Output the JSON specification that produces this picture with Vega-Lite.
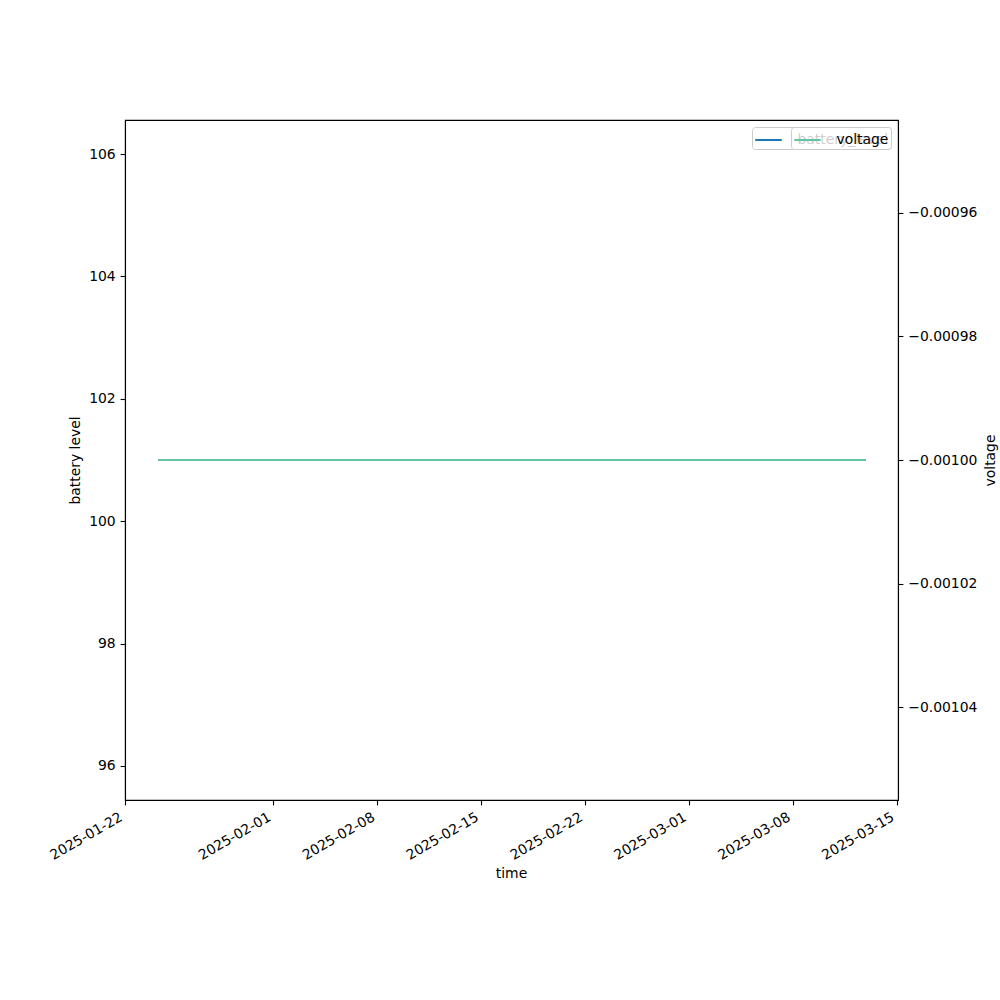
{
  "$schema": "https://vega.github.io/schema/vega-lite/v6.json",
  "autosize": {"type": "none"},
  "width": 773,
  "height": 680,
  "padding": {"left": 125, "top": 120, "right": 102, "bottom": 200},
  "background": "white",
  "config": {
    "view": {"stroke": "black", "strokeWidth": 1.1},
    "font": "DejaVu Sans",
    "axis": {
      "grid": false,
      "domainColor": "black",
      "domainWidth": 1.1,
      "tickColor": "black",
      "tickWidth": 1.1,
      "tickSize": 4.9,
      "labelPadding": 4.9,
      "labelFont": "DejaVu Sans",
      "labelFontSize": 13.9,
      "labelColor": "black",
      "titleFont": "DejaVu Sans",
      "titleFontSize": 13.9,
      "titleFontWeight": "normal",
      "titleColor": "black"
    },
    "legend": {
      "labelFont": "DejaVu Sans",
      "labelFontSize": 13.9,
      "labelColor": "black"
    }
  },
  "data": {
    "values": [
      {"time": "2025-01-24T06:00:00", "battery_level": 101, "voltage": -0.001},
      {"time": "2025-01-28T00:00:00", "battery_level": 101, "voltage": -0.001},
      {"time": "2025-02-01T00:00:00", "battery_level": 101, "voltage": -0.001},
      {"time": "2025-02-05T00:00:00", "battery_level": 101, "voltage": -0.001},
      {"time": "2025-02-09T00:00:00", "battery_level": 101, "voltage": -0.001},
      {"time": "2025-02-13T00:00:00", "battery_level": 101, "voltage": -0.001},
      {"time": "2025-02-17T00:00:00", "battery_level": 101, "voltage": -0.001},
      {"time": "2025-02-21T00:00:00", "battery_level": 101, "voltage": -0.001},
      {"time": "2025-02-25T00:00:00", "battery_level": 101, "voltage": -0.001},
      {"time": "2025-03-01T00:00:00", "battery_level": 101, "voltage": -0.001},
      {"time": "2025-03-05T00:00:00", "battery_level": 101, "voltage": -0.001},
      {"time": "2025-03-09T00:00:00", "battery_level": 101, "voltage": -0.001},
      {"time": "2025-03-12T22:00:00", "battery_level": 101, "voltage": -0.001}
    ]
  },
  "encoding": {
    "x": {
      "field": "time",
      "type": "temporal",
      "scale": {
        "domain": [
          {"year": 2025, "month": 1, "date": 22},
          {"year": 2025, "month": 3, "date": 15, "hours": 2}
        ]
      },
      "axis": {
        "title": "time",
        "format": "%Y-%m-%d",
        "values": [
          {"year": 2025, "month": 1, "date": 22},
          {"year": 2025, "month": 2, "date": 1},
          {"year": 2025, "month": 2, "date": 8},
          {"year": 2025, "month": 2, "date": 15},
          {"year": 2025, "month": 2, "date": 22},
          {"year": 2025, "month": 3, "date": 1},
          {"year": 2025, "month": 3, "date": 8},
          {"year": 2025, "month": 3, "date": 15}
        ],
        "labelAngle": -30,
        "labelAlign": "right",
        "labelBaseline": "top",
        "labelOffset": -7.5,
        "labelOverlap": false,
        "labelFlush": false,
        "titleX": 386,
        "titleY": 73,
        "titleBaseline": "middle",
        "titleAlign": "center"
      }
    }
  },
  "layer": [
    {
      "mark": {"type": "line", "strokeWidth": 2.1},
      "encoding": {
        "y": {
          "field": "battery_level",
          "type": "quantitative",
          "scale": {"domain": [95.444, 106.556], "nice": false, "zero": false},
          "axis": {
            "orient": "left",
            "title": "battery level",
            "values": [96, 98, 100, 102, 104, 106],
            "format": "d",
            "titleX": -50,
            "titleY": 340,
            "titleAngle": 270,
            "titleBaseline": "middle",
            "titleAlign": "center"
          }
        },
        "color": {
          "datum": "battery_level",
          "scale": {"domain": ["battery_level"], "range": ["#1f77b4"]},
          "legend": {
            "title": null,
            "orient": "none",
            "legendX": 627,
            "legendY": 7,
            "fillColor": "rgba(255,255,255,0.8)",
            "strokeColor": "#cccccc",
            "cornerRadius": 3,
            "padding": 2,
            "symbolType": "stroke",
            "symbolSize": 700,
            "symbolStrokeWidth": 2.1,
            "labelOffset": 14.5,
            "encode": {"labels": {"update": {"dy": {"value": -4}}}, "symbols": {"update": {"y": {"value": 11}}}}
          }
        }
      }
    },
    {
      "mark": {"type": "line", "strokeWidth": 2.1},
      "encoding": {
        "y": {
          "field": "voltage",
          "type": "quantitative",
          "scale": {"domain": [-0.001055, -0.000945], "nice": false, "zero": false},
          "axis": {
            "orient": "right",
            "title": "voltage",
            "values": [-0.00096, -0.00098, -0.001, -0.00102, -0.00104],
            "format": ".5f",
            "titleX": 92,
            "titleY": 340,
            "titleAngle": 270,
            "titleBaseline": "middle",
            "titleAlign": "center"
          }
        },
        "color": {
          "datum": "voltage",
          "scale": {"domain": ["voltage"], "range": ["#66c2a5"]},
          "legend": {
            "title": null,
            "orient": "none",
            "legendX": 666,
            "legendY": 7,
            "fillColor": "rgba(255,255,255,0.8)",
            "strokeColor": "#cccccc",
            "cornerRadius": 3,
            "padding": 2,
            "symbolType": "stroke",
            "symbolSize": 700,
            "symbolStrokeWidth": 2.1,
            "labelOffset": 14.5,
            "encode": {"labels": {"update": {"dy": {"value": -4}}}, "symbols": {"update": {"y": {"value": 11}}}}
          }
        }
      }
    }
  ],
  "resolve": {"scale": {"y": "independent", "color": "independent"}}
}
